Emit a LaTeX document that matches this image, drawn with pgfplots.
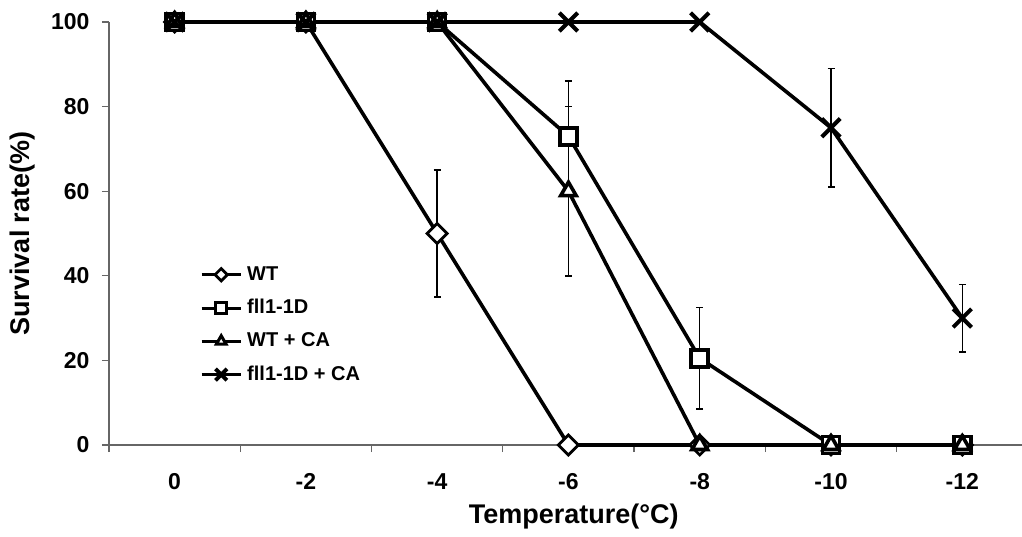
\documentclass[border=0pt]{standalone}
\usepackage{pgfplots}
\pgfplotsset{compat=1.18}
\usepackage{fontspec}
\setmainfont{Liberation Sans}
\begin{document}
\begin{tikzpicture}
\begin{axis}[
  scale only axis, width=913pt, height=423pt,
  xmin=-0.5, xmax=6.455, ymin=0, ymax=100,
  clip=false,
  axis x line*=bottom, axis y line*=left,
  axis line style={draw=black!60, line width=1.2pt, -},
  tick align=outside, major tick length=7pt,
  tick style={draw=black!60, line width=1.2pt},
  xtick={-0.5,0.5,...,5.5}, xticklabels={},
  extra x ticks={0,1,2,3,4,5,6},
  extra x tick labels={0,-2,-4,-6,-8,-10,-12},
  extra x tick style={major tick length=0pt},
  x tick label style={font=\bfseries\fontsize{23}{23}\selectfont, anchor=base, yshift=-44pt},
  ytick={0,20,...,100},
  y tick label style={font=\bfseries\fontsize{23}{23}\selectfont, xshift=-9pt},
  /pgf/number format/assume math mode=true,
  xlabel={Temperature(°C)},
  xlabel style={font=\bfseries\fontsize{27}{27}\selectfont, at={(axis description cs:0.509,0)}, anchor=base, yshift=-78pt},
  ylabel={Survival rate(\%)},
  ylabel style={font=\bfseries\fontsize{27}{27}\selectfont, at={(axis description cs:0,0.5)}, anchor=center, yshift=86pt},
  every axis plot/.append style={line width=3.6pt, black},
  error bars/error bar style={line width=1.5pt, black},
  error bars/error mark options={rotate=90, mark size=3.5pt, line width=1.5pt},
  legend style={at={(0.0997,0.4255)}, anchor=north west, draw=none, fill=none,
    font=\bfseries\fontsize{20}{20}\selectfont,
    nodes={text height=15pt, text depth=4pt, inner sep=0pt, anchor=west},
    row sep=14.3pt, column sep=5pt, inner sep=0pt},
  legend cell align=left,
  legend image code/.code={\draw[mark repeat=2, mark phase=2, #1, line width=3pt] plot coordinates {(0pt,0pt) (19.5pt,0pt) (39pt,0pt)};},
  legend image post style={every mark/.append style={scale=0.62}},
]
% WT
\addplot[mark=diamond*, mark size=10pt, mark options={fill=white, solid, line width=2.8pt, xscale=1.333},
  error bars/.cd, y dir=both, y explicit]
  coordinates {(0,100) (1,100) (2,50) +- (0,15) (3,0) (4,0) (5,0) (6,0)};
\addlegendentry{WT}
% fll-1D
\addplot[mark=square*, mark size=8.5pt, mark options={fill=white, solid},
  error bars/.cd, y dir=both, y explicit]
  coordinates {(0,100) (1,100) (2,100) (3,73) +- (0,13) (4,20.5) +- (0,12) (5,0) (6,0)};
\addlegendentry{fll1-1D}
% WT + CA
\addplot[mark=triangle*, mark size=9pt, mark options={fill=white, solid},
  error bars/.cd, y dir=both, y explicit]
  coordinates {(0,100) (1,100) (2,100) (3,60) +- (0,20) (4,0) (5,0) (6,0)};
\addlegendentry{WT + CA}
% fll-1D + CA
\addplot[mark=x, mark size=13pt, mark options={solid, line width=4pt},
  error bars/.cd, y dir=both, y explicit]
  coordinates {(0,100) (1,100) (2,100) (3,100) (4,100) (5,75) +- (0,14) (6,30) +- (0,8)};
\addlegendentry{fll1-1D + CA}
\end{axis}
\pgfresetboundingbox
\path (current axis.south west) ++(-109pt,-91pt) rectangle ++(1022pt,536pt);
\end{tikzpicture}
\end{document}
